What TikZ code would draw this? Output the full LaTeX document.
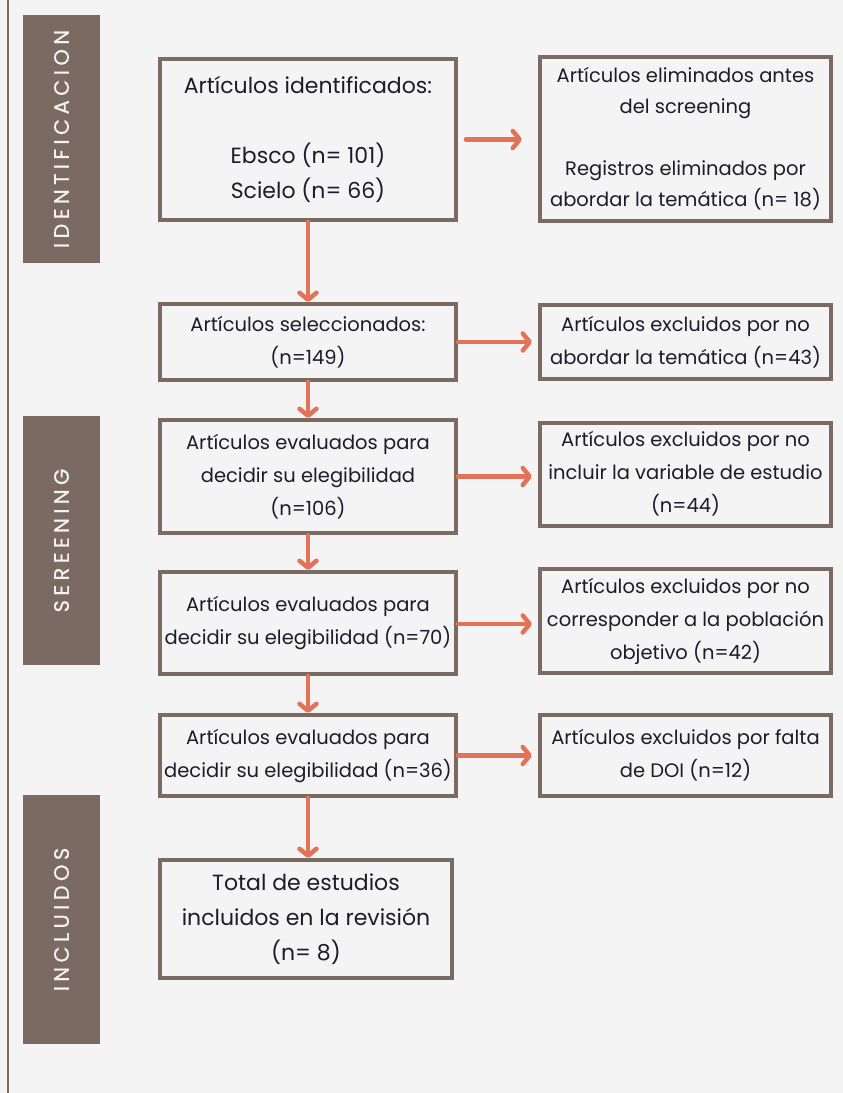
\documentclass[tikz,border=0pt]{standalone}
\usepackage{fontspec}
\setmainfont{Poppins}
\newfontfamily\phasefont[LetterSpace=21, FakeBold=0.6]{Poppins}
\usetikzlibrary{arrows.meta}

\definecolor{boxbrown}{HTML}{7A6A62}
\definecolor{arrowred}{HTML}{E27258}
\definecolor{pagegray}{HTML}{F4F4F4}
\definecolor{inkdark}{HTML}{1C1C2A}

\begin{document}
\begin{tikzpicture}[
  x=1pt, y=-1pt, % pixel-like units, y grows downwards
  stepbox/.style={rectangle, draw=boxbrown, line width=4pt, fill=pagegray, text=inkdark, align=center, inner sep=0pt, font=\fontsize{19.5pt}{33pt}\selectfont},
  phase/.style={rectangle, fill=boxbrown, text=white!92!boxbrown, rotate=90, inner sep=0pt, minimum height=77pt, font=\phasefont\fontsize{21pt}{22pt}\selectfont},
  flow/.style={draw=arrowred, line width=4.5pt, line cap=round, -{Straight Barb[round, length=7pt, width=17pt]}} % orange connectors
]

% page and left rule
\fill[pagegray] (0,0) rectangle (843,1093);
\useasboundingbox (0,0) rectangle (843,1093);
\draw[boxbrown, line width=2.5pt] (8,0) -- (8,1093);

% Phase labels
\node[phase, minimum width=248pt] (pident) at (61.5,139) {IDENTIFICACION};
\node[phase, minimum width=249pt] (pscreen) at (61.5,540.5) {SEREENING};
\node[phase, minimum width=249pt] (pincl) at (61.5,919.5) {INCLUIDOS};

% Main column
\node[stepbox, minimum width=296pt, minimum height=161pt, font=\fontsize{22pt}{35pt}\selectfont] (ident) at (308,139.5) {%
  Artículos identificados:\\ \\
  Ebsco (n= 101)\\
  Scielo (n= 66)};
\node[stepbox, minimum width=296pt, minimum height=76pt] (selec) at (308,342) {%
  Artículos seleccionados:\\ (n=149)};
\node[stepbox, minimum width=296pt, minimum height=113pt] (eval1) at (308,476.5) {%
  Artículos evaluados para\\ decidir su elegibilidad\\ (n=106)};
\node[stepbox, minimum width=296pt, minimum height=102pt] (eval2) at (308,623) {%
  Artículos evaluados para\\ decidir su elegibilidad (n=70)};
\node[stepbox, minimum width=296pt, minimum height=81pt] (eval3) at (308,755.5) {%
  Artículos evaluados para\\ decidir su elegibilidad (n=36)};
\node[stepbox, minimum width=292pt, minimum height=118pt, font=\fontsize{22pt}{35pt}\selectfont] (total) at (306,919) {%
  Total de estudios\\ incluidos en la revisión\\ (n= 8)};

% Exclusion column
\node[stepbox, minimum width=291pt, minimum height=164pt, font=\fontsize{19.5pt}{31pt}\selectfont] (elim) at (685.5,139) {%
  Artículos eliminados antes\\ del screening\\ \\
  Registros eliminados por\\ abordar la temática (n= 18)};
\node[stepbox, minimum width=291pt, minimum height=74pt] (excl1) at (685.5,342) {%
  Artículos excluidos por no\\ abordar la temática (n=43)};
\node[stepbox, minimum width=291pt, minimum height=103pt] (excl2) at (685.5,474) {%
  Artículos excluidos por no\\ incluir la variable de estudio\\ (n=44)};
\node[stepbox, minimum width=291pt, minimum height=104pt] (excl3) at (685.5,621) {%
  Artículos excluidos por no\\ corresponder a la población\\ objetivo (n=42)};
\node[stepbox, minimum width=291pt, minimum height=81pt] (excl4) at (685.5,755.5) {%
  Artículos excluidos por falta\\ de DOI (n=12)};

% Downward flow
\draw[flow] (ident.south) -- (selec.north);
\draw[flow] (selec.south) -- (eval1.north);
\draw[flow] (eval1.south) -- (eval2.north);
\draw[flow] (eval2.south) -- (eval3.north);
\draw[flow] (eval3.south) -- (eval3.south |- total.north);

% Side flow
\draw[flow, shorten <=8pt, shorten >=16pt] (ident.east) -- (ident.east -| elim.west);
\draw[flow, shorten >=6pt] (selec.east) -- (excl1.west);
\draw[flow, shorten >=6pt] (eval1.east) -- (eval1.east -| excl2.west);
\draw[flow, shorten >=6pt] ([yshift=-1pt]eval2.east) -- ([yshift=-1pt]eval2.east -| excl3.west);
\draw[flow, shorten >=6pt] (eval3.east) -- (excl4.west);

\end{tikzpicture}
\end{document}
